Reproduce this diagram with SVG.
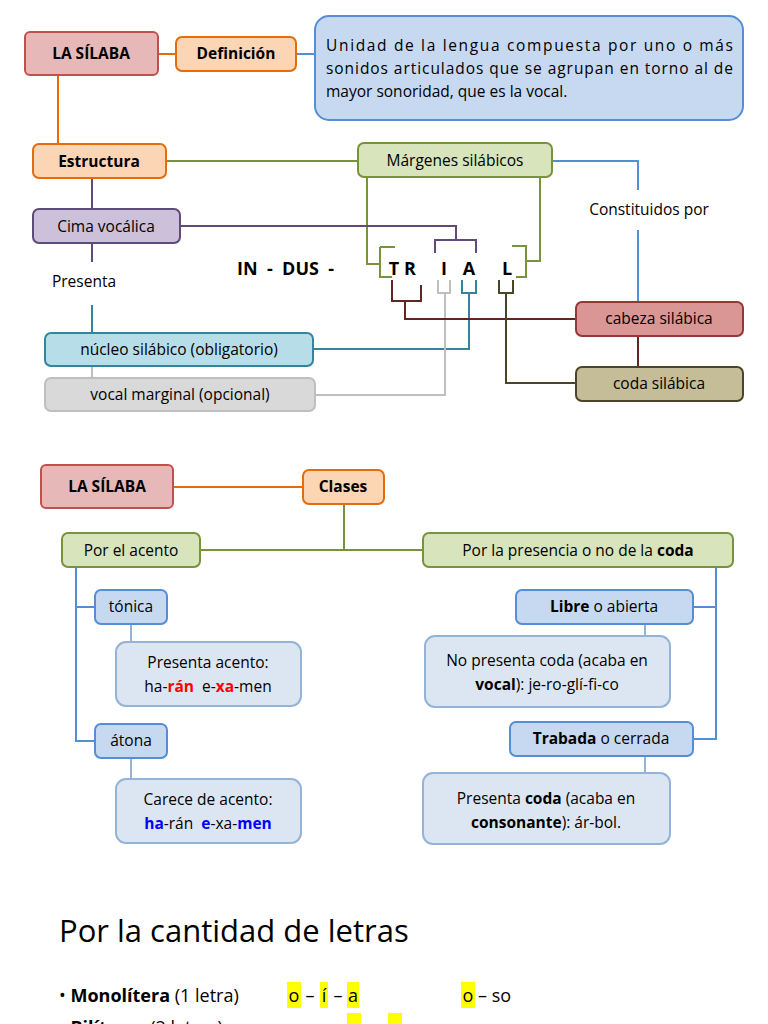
<svg xmlns="http://www.w3.org/2000/svg" width="768" height="1024" viewBox="0 0 768 1024">
<style>
text{font-family:"Open Sans","Liberation Sans",sans-serif;font-size:15.5px;fill:#000;text-anchor:middle;white-space:pre}
.b{font-weight:bold}
.s{text-anchor:start}
.l{fill:none;stroke-width:2}
rect{stroke-width:2}
.or{fill:#fcd5b4;stroke:#e46c0a}
.red{fill:#e6b8b7;stroke:#c0504d}
.gr{fill:#d7e4bc;stroke:#77933c}
.bl{fill:#c6d9f1;stroke:#558ed5}
.lb{fill:#dce6f2;stroke:#95b3d7}
.hl{fill:#ffff00;stroke:none}
.big{font-size:18px}
</style>
<g id="connectors">
<path class="l" stroke="#e46c0a" d="M158 54H176M58 75V144M173 487H303"/>
<path class="l" stroke="#558ed5" d="M296 54H315M552 161H638V190M638 230V302"/>
<path class="l" stroke="#77933c" d="M166 161H358M367 177V264H380M380 247H395M380 247V277H392M540 177V261H526M512 246H526V277H516M344 504V550M200 550H423"/>
<path class="l" stroke="#604a7b" d="M92 178V209M180 226H456V240M435 253V240H476V253M92 243V262"/>
<path class="l" stroke="#31859c" d="M92 305V333M313 349H469V293M462 280V293H476V280"/>
<path class="l" stroke="#bfbfbf" d="M92 366V378M315 395H445V293M438 280V293H450V280"/>
<path class="l" stroke="#632523" d="M392 280V301H421V285M405 301V319H576M638 336V367"/>
<path class="l" stroke="#4a452a" d="M499 280V293H513V280M506 293V383H576"/>
<path class="l" stroke="#558ed5" d="M76 567V741H95M76 607H95M716 567V739H693M693 607H716"/>
<path class="l" stroke="#95b3d7" d="M131 624V642M131 758V779M645 624V636M645 756V773"/>
</g>
<g id="lasilaba1"><rect class="red" x="25" y="32" width="133" height="43" rx="5"/><text class="b" x="91" y="59">LA SÍLABA</text></g>
<g id="definicion"><rect class="or" x="176" y="37" width="120" height="34" rx="6"/><text class="b" x="236" y="59">Definición</text></g>
<g id="defbox"><rect class="bl" x="315" y="16" width="428" height="104" rx="14"/>
<text class="s" x="326" y="51" textLength="407" lengthAdjust="spacing">Unidad de la lengua compuesta por uno o más</text>
<text class="s" x="326" y="74" textLength="407" lengthAdjust="spacing">sonidos articulados que se agrupan en torno al de</text>
<text class="s" x="326" y="97">mayor sonoridad, que es la vocal.</text></g>
<g id="estructura"><rect class="or" x="33" y="144" width="133" height="34" rx="6"/><text class="b" x="99" y="167">Estructura</text></g>
<g id="margenes"><rect class="gr" x="358" y="143" width="194" height="34" rx="6"/><text x="455" y="166">Márgenes silábicos</text></g>
<g id="cima"><rect fill="#ccc0da" stroke="#604a7b" x="33" y="209" width="147" height="34" rx="6"/><text x="106" y="232">Cima vocálica</text></g>
<text x="84" y="287">Presenta</text>
<text x="649" y="215">Constituidos por</text>
<g id="word">
<text class="b s big" x="237" y="275">IN  -  DUS  -</text>
<text class="b big" x="394" y="275">T</text><text class="b big" x="410" y="275">R</text>
<text class="b big" x="444" y="275">I</text><text class="b big" x="469" y="275">A</text>
<text class="b big" x="507" y="275">L</text></g>
<g id="nucleo"><rect fill="#b7dee8" stroke="#31859c" x="45" y="333" width="268" height="33" rx="6"/><text x="179" y="355">núcleo silábico (obligatorio)</text></g>
<g id="vocal"><rect fill="#d9d9d9" stroke="#bfbfbf" x="45" y="378" width="270" height="33" rx="6"/><text x="180" y="400">vocal marginal (opcional)</text></g>
<g id="cabeza"><rect fill="#d99694" stroke="#953735" x="576" y="302" width="167" height="34" rx="6"/><text x="659" y="324">cabeza silábica</text></g>
<g id="coda"><rect fill="#c4bd97" stroke="#4a452a" x="576" y="367" width="167" height="34" rx="6"/><text x="659" y="389">coda silábica</text></g>

<g id="lasilaba2"><rect class="red" x="41" y="465" width="132" height="43" rx="5"/><text class="b" x="107" y="492">LA SÍLABA</text></g>
<g id="clases"><rect class="or" x="303" y="470" width="81" height="34" rx="6"/><text class="b" x="343" y="492">Clases</text></g>
<g id="acento"><rect class="gr" x="62" y="533" width="138" height="34" rx="6"/><text x="131" y="556">Por el acento</text></g>
<g id="presencia"><rect class="gr" x="423" y="533" width="310" height="34" rx="6"/><text x="578" y="556">Por la presencia o no de la <tspan class="b">coda</tspan></text></g>
<g id="tonica"><rect class="bl" x="95" y="590" width="72" height="34" rx="6"/><text x="131" y="612">tónica</text></g>
<g id="presentaAcento"><rect class="lb" x="116" y="642" width="185" height="64" rx="10"/><text x="208" y="668">Presenta acento:</text><text x="208" y="692">ha-<tspan class="b" fill="#ff0000">rán</tspan>  e-<tspan class="b" fill="#ff0000">xa</tspan>-men</text></g>
<g id="atona"><rect class="bl" x="95" y="724" width="72" height="34" rx="6"/><text x="131" y="746">átona</text></g>
<g id="carece"><rect class="lb" x="116" y="779" width="185" height="64" rx="10"/><text x="208" y="805">Carece de acento:</text><text x="208" y="829"><tspan class="b" fill="#0000ff">ha</tspan>-rán  <tspan class="b" fill="#0000ff">e</tspan>-xa-<tspan class="b" fill="#0000ff">men</tspan></text></g>
<g id="libre"><rect class="bl" x="516" y="590" width="177" height="34" rx="6"/><text x="604" y="612"><tspan class="b">Libre</tspan> o abierta</text></g>
<g id="noPresenta"><rect class="lb" x="425" y="636" width="245" height="71" rx="10"/><text x="547" y="666">No presenta coda (acaba en</text><text x="547" y="690"><tspan class="b">vocal</tspan>): je-ro-glí-fi-co</text></g>
<g id="trabada"><rect class="bl" x="510" y="722" width="183" height="34" rx="6"/><text x="601" y="744"><tspan class="b">Trabada</tspan> o cerrada</text></g>
<g id="presentaCoda"><rect class="lb" x="423" y="773" width="247" height="71" rx="10"/><text x="546" y="804">Presenta <tspan class="b">coda</tspan> (acaba en</text><text x="546" y="828"><tspan class="b">consonante</tspan>): ár-bol.</text></g>

<text class="s" x="59" y="942" style="font-size:31px">Por la cantidad de letras</text>
<g id="letras">
<rect class="hl" x="287" y="982" width="14" height="26"/>
<rect class="hl" x="320" y="982" width="8" height="26"/>
<rect class="hl" x="347" y="982" width="12" height="26"/>
<rect class="hl" x="461" y="982" width="14" height="26"/>
<rect class="hl" x="347" y="1013" width="14" height="14"/>
<rect class="hl" x="388" y="1013" width="14" height="14"/>
<text class="s big" x="59" y="1002">• <tspan class="b">Monolítera</tspan> (1 letra)</text>
<text class="big" x="294" y="1002">o</text><text class="big" x="310" y="1002">–</text><text class="big" x="324" y="1002">í</text><text class="big" x="338" y="1002">–</text><text class="big" x="353" y="1002">a</text>
<text class="big" x="468" y="1002">o</text><text class="s big" x="478" y="1002">– so</text>
<text class="s big" x="59" y="1034">• <tspan class="b">Bilíteras</tspan> (2 letras)</text>
</g>
</svg>
